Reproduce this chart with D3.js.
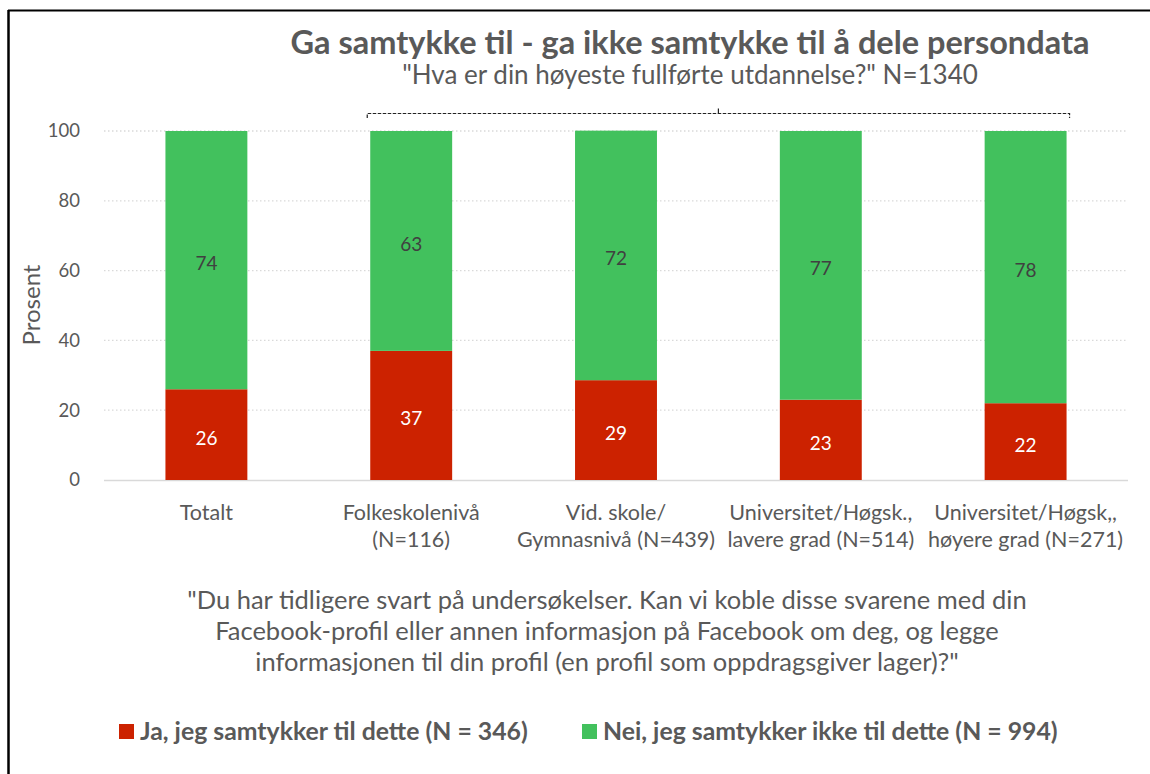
<!DOCTYPE html>
<meta charset="utf-8">
<style>
html, body { margin: 0; background: #fff; overflow: hidden; }
svg { display: block; }
text { font-family: Lato, "Open Sans", sans-serif; fill: #595959; }
</style>
<body>
<script src="https://d3js.org/d3.v7.min.js"></script>
<script>
// data
var categories = ["Totalt", "Folkeskolenivå|(N=116)", "Vid. skole/|Gymnasnivå (N=439)",
                  "Universitet/Høgsk.,|lavere grad (N=514)", "Universitet/Høgsk,,|høyere grad (N=271)"];
var ja = [26, 37, 28.6, 23, 22];
var nei = [74, 63, 71.5, 77, 78];
var yTicks = [0, 20, 40, 60, 80, 100];
var seriesNames = ["Ja, jeg samtykker til dette (N = 346)", "Nei, jeg samtykker ikke til dette (N = 994)"];
var colors = ["#CC2200", "#42C15D"];
var title = "Ga samtykke til - ga ikke samtykke til å dele persondata";
var subtitle = "\"Hva er din høyeste fullførte utdannelse?\" N=1340";
var question = ["\"Du har tidligere svart på undersøkelser. Kan vi koble disse svarene med din",
                "Facebook-profil eller annen informasjon på Facebook om deg, og legge",
                "informasjonen til din profil (en profil som oppdragsgiver lager)?\""];

var W = 1150, H = 774;
var svg = d3.select("body").append("svg").attr("width", W).attr("height", H);

// frame (top + left only)
svg.append("line").attr("x1", 8).attr("x2", W).attr("y1", 10.5).attr("y2", 10.5)
    .attr("stroke", "#000").attr("stroke-width", 2);
svg.append("line").attr("x1", 8.5).attr("x2", 8.5).attr("y1", 10).attr("y2", H)
    .attr("stroke", "#000").attr("stroke-width", 2.5);

// scales
var x = d3.scaleBand().domain(categories).range([104, 1128]).paddingInner(0.6).paddingOuter(0.3);
var y = d3.scaleLinear().domain([0, 100]).range([480, 131]);

// gridlines
svg.append("g").selectAll("line").data(yTicks.filter(function(d) { return d > 0; }))
  .enter().append("line")
    .attr("x1", 104).attr("x2", 1128)
    .attr("y1", function(d) { return y(d); }).attr("y2", function(d) { return y(d); })
    .attr("stroke", "#d9d9d9").attr("stroke-width", 1.3).attr("stroke-dasharray", "1.5,2.5");

// y axis
var yAxis = svg.append("g").attr("transform", "translate(104,0)")
    .call(d3.axisLeft(y).tickValues(yTicks).tickSize(0).tickPadding(24));
yAxis.select(".domain").remove();
yAxis.selectAll("text").style("font-size", "18.5px").attr("fill", "#595959");

svg.append("text").attr("transform", "translate(40,305) rotate(-90)")
    .attr("text-anchor", "middle").style("font-size", "24px").text("Prosent");

// baseline
svg.append("line").attr("x1", 104).attr("x2", 1128).attr("y1", y(0) + 0.5).attr("y2", y(0) + 0.5)
    .attr("stroke", "#d9d9d9").attr("stroke-width", 1.5);

// stacked bars
var rows = categories.map(function(c, i) { return {cat: c, ja: ja[i], nei: nei[i]}; });
var stack = d3.stack().keys(["ja", "nei"])(rows);

var layers = svg.append("g").selectAll("g").data(stack).enter().append("g")
    .attr("fill", function(d, i) { return colors[i]; });

layers.selectAll("rect").data(function(d) { return d; }).enter().append("rect")
    .attr("x", function(d) { return x(d.data.cat); })
    .attr("width", x.bandwidth())
    .attr("y", function(d) { return y(d[1]); })
    .attr("height", function(d) { return y(d[0]) - y(d[1]); });

layers.each(function(layer, li) {
  d3.select(this).selectAll("text.val").data(layer).enter().append("text")
      .attr("class", "val")
      .attr("x", function(d) { return x(d.data.cat) + x.bandwidth() / 2; })
      .attr("y", function(d) { return y((d[0] + d[1]) / 2) + 10; })
      .attr("text-anchor", "middle")
      .style("font-size", "19px")
      .style("fill", li === 0 ? "#ffffff" : "#404040")
      .text(function(d) { return Math.round(d[1] - d[0]); });
});

// category labels
var xl = svg.append("g").selectAll("text").data(categories).enter().append("text")
    .attr("x", function(d) { return x(d) + x.bandwidth() / 2; })
    .attr("y", 520)
    .attr("text-anchor", "middle")
    .style("font-size", "21.5px");
xl.selectAll("tspan").data(function(d) { return d.split("|"); }).enter().append("tspan")
    .attr("x", function() { return d3.select(this.parentNode).attr("x"); })
    .attr("dy", function(d, i) { return i === 0 ? 0 : 27; })
    .text(function(d) { return d; });

// title
svg.append("text").attr("x", 690).attr("y", 54).attr("text-anchor", "middle")
    .style("font-size", "32.5px").style("font-weight", "bold").text(title);
svg.append("text").attr("x", 690).attr("y", 84).attr("text-anchor", "middle")
    .style("font-size", "26px").text(subtitle);

// bracket over the education groups
var bx0 = x(categories[1]) - 3, bx1 = x(categories[4]) + x.bandwidth() + 3, bmid = (bx0 + bx1) / 2;
svg.append("path")
    .attr("d", "M" + bx0 + ",118 V113.5 H" + bx1 + " V118")
    .attr("fill", "none").attr("stroke", "#222").attr("stroke-width", 1.2).attr("stroke-dasharray", "3.5,1.5");
svg.append("path")
    .attr("d", "M" + bmid + ",113.5 V108.5")
    .attr("fill", "none").attr("stroke", "#222").attr("stroke-width", 1.2);

// question text
svg.append("g").selectAll("text").data(question).enter().append("text")
    .attr("x", 607).attr("y", function(d, i) { return 609 + i * 31; })
    .attr("text-anchor", "middle").style("font-size", "25.5px")
    .text(function(d) { return d; });

// legend
var legX = [119, 582];
var leg = svg.append("g").selectAll("g").data(seriesNames).enter().append("g")
    .attr("transform", function(d, i) { return "translate(" + legX[i] + ",724)"; });
leg.append("rect").attr("width", 15).attr("height", 15).attr("fill", function(d, i) { return colors[i]; });
leg.append("text").attr("x", 21).attr("y", 16).style("font-size", "24.8px").style("font-weight", "bold")
    .text(function(d) { return d; });
</script>
</body>
